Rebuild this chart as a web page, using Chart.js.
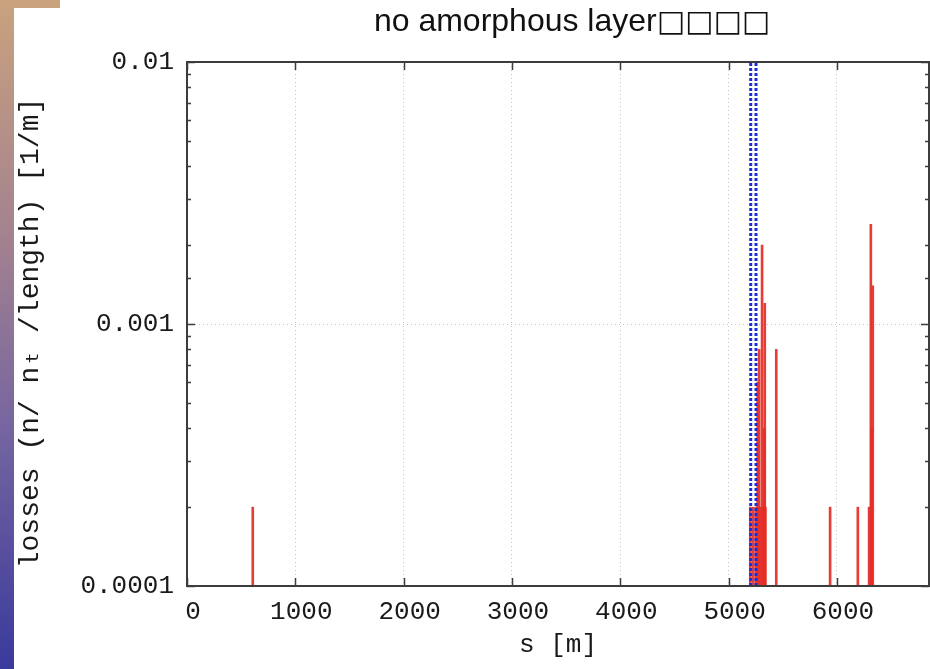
<!DOCTYPE html>
<html>
<head>
<meta charset="utf-8">
<script src="https://cdn.jsdelivr.net/npm/chart.js@4.4.1/dist/chart.umd.min.js"></script>
<style>
  html, body { margin: 0; padding: 0; background: #fff; }
</style>
</head>
<body>
<canvas id="lossChart" width="930" height="669"></canvas>
<script>
// loss positions along the ring [m] and loss values [1/m]
const lossS =      [607,    5200,   5225,   5250,   5268,   5275,   5282,   5300,   5309,  5325,   5328,   5334,   5340,   5440,   5937,   6193,   6297,   6313,   6322,   6331];
const lossValues = [0.0002, 0.0002, 0.0002, 0.0002, 0.0006, 0.0002, 0.0008, 0.0002, 0.002, 0.0002, 0.0004, 0.0012, 0.0002, 0.0008, 0.0002, 0.0002, 0.0002, 0.0024, 0.0004, 0.0014];
// blue dotted marker lines
const markerS = [5204, 5253];
const xTicks = [0, 1000, 2000, 3000, 4000, 5000, 6000];
const yTicks = [0.0001, 0.001, 0.01];

const monoFont = "'Liberation Mono', 'DejaVu Sans Mono', monospace";

function isMajor(v) {
  const l = Math.log10(v);
  return Math.abs(l - Math.round(l)) < 1e-6;
}

const decoPlugin = {
  id: "deco",
  beforeDraw(chart) {
    const ctx = chart.ctx;
    ctx.save();
    ctx.fillStyle = "#ffffff";
    ctx.fillRect(0, 0, chart.width, chart.height);
    const g = ctx.createLinearGradient(0, 0, 0, chart.height);
    g.addColorStop(0, "#c9a27e");
    g.addColorStop(0.35, "#a4828f");
    g.addColorStop(0.65, "#7464a0");
    g.addColorStop(1, "#3a3a9c");
    ctx.fillStyle = g;
    ctx.fillRect(0, 0, 14, chart.height);
    ctx.fillStyle = "#c9a27e";
    ctx.fillRect(0, 0, 60, 8);

    // title: text part and the four boxes
    const t1 = "no amorphous layer";
    const t2 = "\u25A1\u25A1\u25A1\u25A1";
    const f1 = "32px 'Liberation Sans', Arial, sans-serif";
    const f2 = "30px 'DejaVu Sans', sans-serif";
    ctx.font = f1;
    const w1 = ctx.measureText(t1).width;
    ctx.font = f2;
    const w2 = ctx.measureText(t2).width;
    const x0 = 572 - (w1 + w2) / 2;
    ctx.fillStyle = "#111";
    ctx.textAlign = "left";
    ctx.textBaseline = "alphabetic";
    ctx.font = f1;
    ctx.fillText(t1, x0, 31);
    ctx.font = f2;
    ctx.fillText(t2, x0 + w1, 31);

    // y axis title
    ctx.save();
    ctx.translate(31, 333);
    ctx.rotate(-Math.PI / 2);
    ctx.textAlign = "center";
    ctx.textBaseline = "middle";
    ctx.font = "28px " + monoFont;
    ctx.fillStyle = "#1a1a1a";
    ctx.fillText("losses (n/ n\u209C /length) [1/m]", 0, 0);
    ctx.restore();
    ctx.restore();
  },
  afterDatasetsDraw(chart) {
    const ctx = chart.ctx;
    const a = chart.chartArea;
    const xs = chart.scales.x;
    const ys = chart.scales.y;
    ctx.save();
    ctx.strokeStyle = "#3c3c3c";
    ctx.lineWidth = 1.5;
    ctx.beginPath();
    xTicks.forEach(v => {
      const px = Math.round(xs.getPixelForValue(v)) + 0.5;
      ctx.moveTo(px, a.bottom); ctx.lineTo(px, a.bottom - 8);
      ctx.moveTo(px, a.top); ctx.lineTo(px, a.top + 8);
    });
    ys.ticks.forEach(t => {
      const py = Math.round(ys.getPixelForValue(t.value)) + 0.5;
      const len = isMajor(t.value) ? 8 : 4;
      ctx.moveTo(a.left, py); ctx.lineTo(a.left + len, py);
      ctx.moveTo(a.right, py); ctx.lineTo(a.right - len, py);
    });
    ctx.stroke();
    ctx.lineWidth = 2;
    ctx.strokeRect(a.left, a.top, a.right - a.left, a.bottom - a.top);
    ctx.restore();
  }
};

const markerSets = markerS.map(s => ({
  type: "line",
  data: [{ x: s, y: yTicks[0] }, { x: s, y: yTicks[2] }],
  borderColor: "#1c2fd4",
  borderWidth: 3,
  borderDash: [3, 2],
  pointRadius: 0,
  fill: false
}));

new Chart(document.getElementById("lossChart").getContext("2d"), {
  type: "bar",
  data: {
    datasets: [
      ...markerSets,
      {
        type: "bar",
        data: lossS.map((s, i) => ({ x: s, y: lossValues[i] })),
        backgroundColor: "rgba(228, 46, 38, 0.92)",
        borderWidth: 0,
        barThickness: 2
      }
    ]
  },
  options: {
    responsive: false,
    animation: false,
    devicePixelRatio: 1,
    layout: { padding: { top: 62, right: 1, left: 0, bottom: 0 } },
    plugins: { legend: { display: false }, tooltip: { enabled: false } },
    scales: {
      x: {
        type: "linear",
        min: 0,
        max: 6850,
        offset: false,
        afterFit: scale => { scale.height = 83; },
        afterBuildTicks: scale => {
          scale.ticks = xTicks.map(v => ({ value: v }));
        },
        ticks: {
          stepSize: 1000,
          padding: 11,
          labelOffset: 6,
          maxRotation: 0,
          autoSkip: false,
          color: "#1a1a1a",
          font: { family: monoFont, size: 26 },
          callback: v => String(v)
        },
        grid: { color: "#c4c4c4", lineWidth: 1, drawTicks: false, offset: false },
        border: { display: false, dash: [1, 3] },
        title: {
          display: true,
          text: "s [m]",
          color: "#1a1a1a",
          font: { family: monoFont, size: 26 },
          padding: { top: 0, bottom: 8 }
        }
      },
      y: {
        type: "logarithmic",
        min: 0.0001,
        max: 0.01,
        afterFit: scale => { scale.width = 187; },
        ticks: {
          padding: 13,
          autoSkip: false,
          color: "#1a1a1a",
          font: { family: monoFont, size: 26 },
          callback: v => {
            if (!isMajor(v)) return "";
            const e = Math.round(Math.log10(v));
            return Math.pow(10, e).toFixed(-e);
          }
        },
        grid: {
          color: c => (c.tick && isMajor(c.tick.value)) ? "#c4c4c4" : "rgba(0,0,0,0)",
          lineWidth: 1,
          drawTicks: false
        },
        border: { display: false, dash: [1, 3] }
      }
    }
  },
  plugins: [decoPlugin]
});
</script>
</body>
</html>
